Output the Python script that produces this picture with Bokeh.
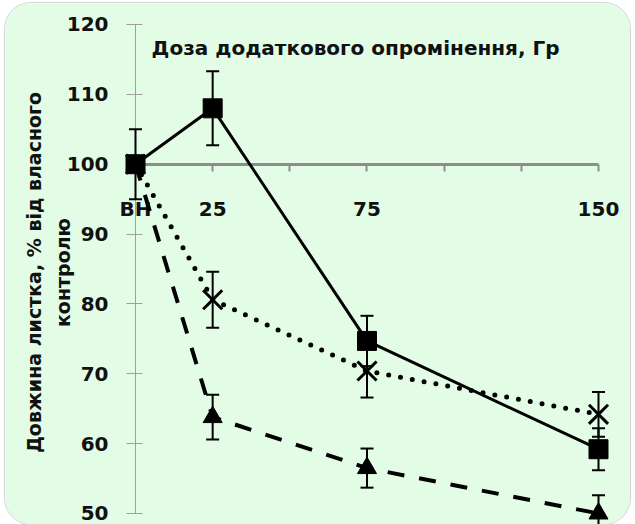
import math
from bokeh.plotting import figure
from bokeh.models import Range1d, FixedTicker, Label, Whisker, ColumnDataSource, TeeHead
from bokeh.embed import file_html
from bokeh.resources import INLINE

# ---- data ----
doses = [0, 25, 75, 150]
x_ticks = [0, 25, 50, 75, 100, 125, 150]
x_tick_labels = ["ВН", "25", "", "75", "", "", "150"]
y_ticks = [50, 60, 70, 80, 90, 100, 110, 120]

sq_mean = [100.0, 108.0, 74.7, 59.2]
sq_err = [5.0, 5.3, 3.6, 3.0]
cross_mean = [100.0, 80.6, 70.4, 64.2]
cross_err = [0.0, 4.0, 3.8, 3.2]
tri_mean = [100.0, 63.8, 56.5, 50.0]
tri_err = [0.0, 3.2, 2.8, 2.6]

title_text = "Доза додаткового опромінення, Гр"
ylabel_lines = ["Довжина листка, % від власного", "контролю"]

BG = "#E2FCE6"
FONT = "DejaVu Sans"
TXT = "#111111"

# whole canvas is the frame; ranges chosen so axes sit where the reference has them
p = figure(width=625, height=521, output_backend="svg", toolbar_location=None,
           x_range=Range1d(-42.12, 160.37), y_range=Range1d(48.425, 123.006),
           min_border_left=0, min_border_right=0, min_border_top=0, min_border_bottom=0,
           background_fill_color=BG, border_fill_color=BG, outline_line_color=None)
p.grid.visible = False
p.styles = {"margin": "3px 0 0 5px", "border-radius": "26px", "overflow": "hidden",
            "box-shadow": "0 0 0 1px #d4d4d4"}

# x axis crossing at 100
xa = p.xaxis[0]
xa.fixed_location = 100
xa.bounds = (x_ticks[0], x_ticks[-1])
xa.ticker = FixedTicker(ticks=x_ticks, minor_ticks=[])
xa.major_label_overrides = {t: lab for t, lab in zip(x_ticks, x_tick_labels)}
xa.axis_line_color = "#8c8c8c"
xa.axis_line_width = 3
xa.major_tick_line_color = "#8c8c8c"
xa.major_tick_line_width = 2
xa.major_tick_in = 0
xa.major_tick_out = 7
xa.major_label_standoff = 26
xa.major_label_text_font = FONT
xa.major_label_text_font_style = "bold"
xa.major_label_text_font_size = "20px"
xa.major_label_text_color = TXT
xa.level = "underlay"

ya = p.yaxis[0]
ya.fixed_location = 0
ya.bounds = (y_ticks[0], y_ticks[-1])
ya.ticker = FixedTicker(ticks=y_ticks, minor_ticks=[])
ya.axis_line_color = "#a0a0a0"
ya.axis_line_width = 1
ya.major_tick_line_color = "#a0a0a0"
ya.major_tick_in = 7
ya.major_tick_out = 9
ya.major_label_standoff = 18
ya.major_label_text_font = FONT
ya.major_label_text_font_style = "bold"
ya.major_label_text_font_size = "20px"
ya.major_label_text_color = TXT
ya.level = "underlay"

# series lines and markers
p.line(doses, sq_mean, line_width=3, line_color="black")
p.line(doses, cross_mean, line_width=5, line_color="black", line_dash="0 12", line_cap="round")
p.line(doses, tri_mean, line_width=4, line_color="black", line_dash="17 15")

p.scatter(doses, sq_mean, marker="square", size=19, color="black")
p.scatter(doses, cross_mean, marker="x", size=27, line_color="black", line_width=3)
p.scatter(doses, tri_mean, marker="triangle", size=19, color="black")

def add_err(means, errs):
    xs = [d for d, e in zip(doses, errs) if e > 0]
    up = [m + e for m, e in zip(means, errs) if e > 0]
    lo = [m - e for m, e in zip(means, errs) if e > 0]
    src = ColumnDataSource(dict(x=xs, upper=up, lower=lo))
    w = Whisker(source=src, base="x", upper="upper", lower="lower",
                line_color="black", line_width=2,
                upper_head=TeeHead(size=13, line_width=2, line_color="black"),
                lower_head=TeeHead(size=13, line_width=2, line_color="black"))
    p.add_layout(w)

add_err(sq_mean, sq_err)
add_err(cross_mean, cross_err)
add_err(tri_mean, tri_err)

# texts
p.add_layout(Label(x=71.3, y=116.6, text=title_text, text_align="center",
                   text_baseline="middle", text_font=FONT, text_font_style="bold",
                   text_font_size="20px", text_color=TXT))
p.add_layout(Label(x=-33.0, y=84.5, text=ylabel_lines[0], angle=math.pi / 2,
                   text_align="center", text_baseline="middle", text_font=FONT,
                   text_font_style="bold", text_font_size="19px", text_color=TXT))
p.add_layout(Label(x=-23.6, y=84.5, text=ylabel_lines[1], angle=math.pi / 2,
                   text_align="center", text_baseline="middle", text_font=FONT,
                   text_font_style="bold", text_font_size="19px", text_color=TXT))

open("out.html", "w").write(file_html(p, INLINE))
